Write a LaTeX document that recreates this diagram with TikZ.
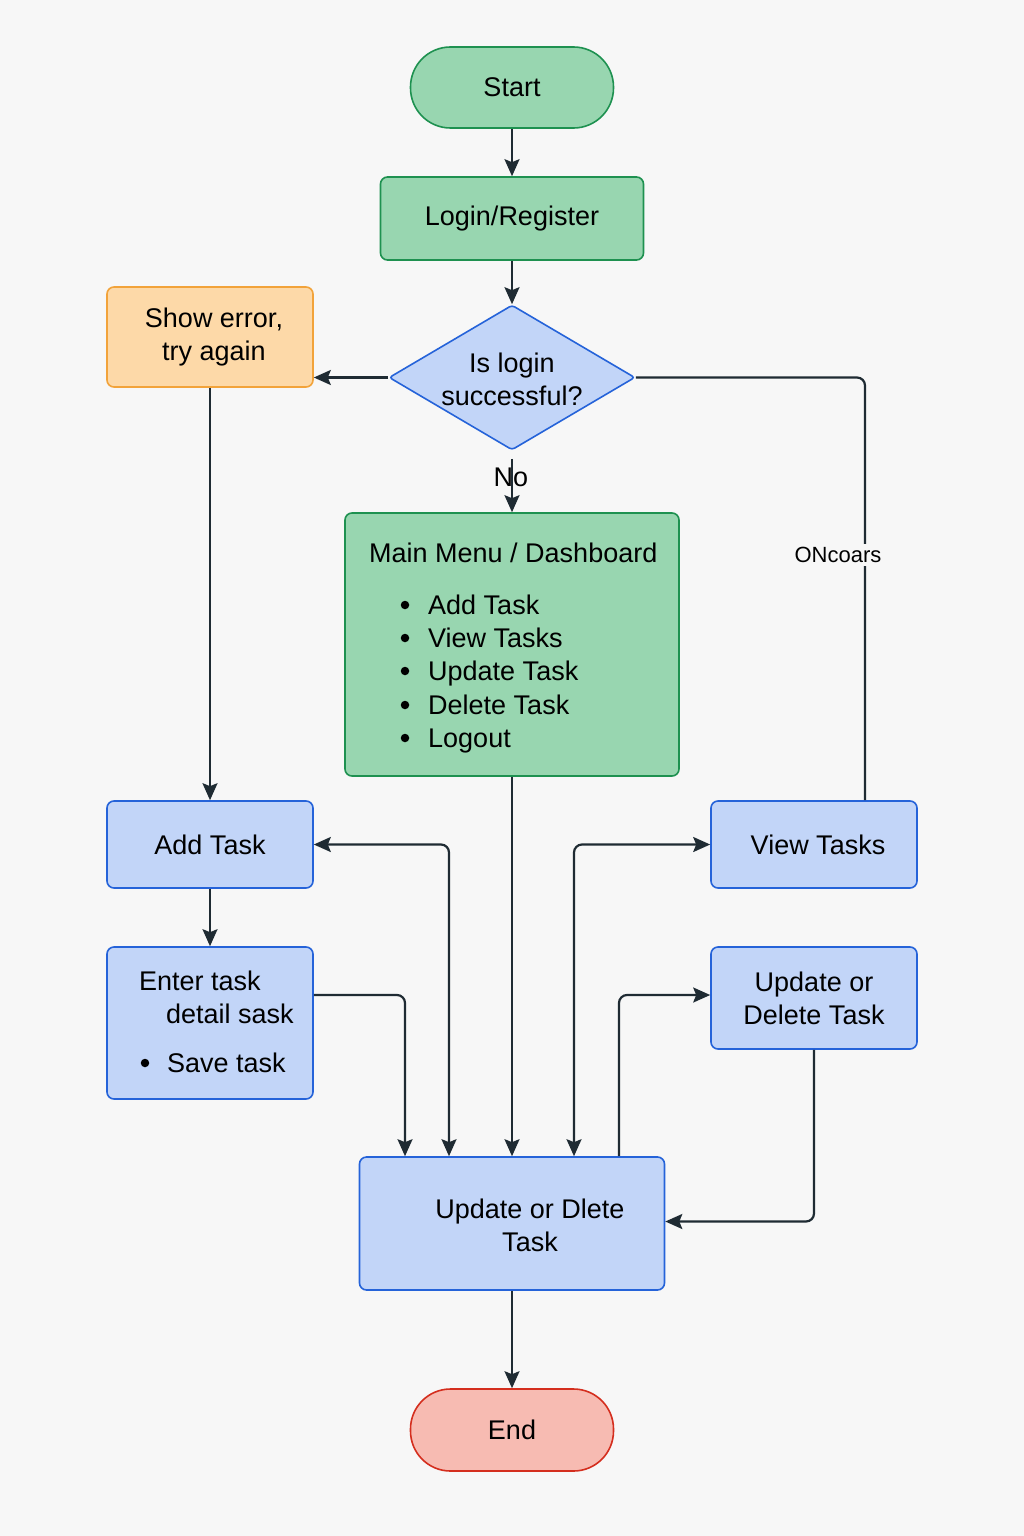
\documentclass[tikz,border=0pt]{standalone}
\usepackage{fontspec}
\setmainfont{Liberation Sans}
\usetikzlibrary{arrows.meta,shapes.geometric}
\definecolor{bg}{HTML}{F7F7F7}
\definecolor{gfill}{HTML}{98D6B0}
\definecolor{gline}{HTML}{1E9150}
\definecolor{bfill}{HTML}{C2D5F8}
\definecolor{bline}{HTML}{2563D9}
\definecolor{ofill}{HTML}{FDD9A8}
\definecolor{oline}{HTML}{F2A33A}
\definecolor{rfill}{HTML}{F7BBB2}
\definecolor{rline}{HTML}{D42E1E}
\definecolor{ink}{HTML}{1F2B33}
\begin{document}
\begin{tikzpicture}[x=1pt,y=-1pt,
  box/.style={draw, line width=1.6pt, rounded corners=7pt, inner sep=0pt,
    font=\fontsize{27}{33}\selectfont, align=center, text=black},
  gbox/.style={box, fill=gfill, draw=gline},
  bbox/.style={box, fill=bfill, draw=bline},
  obox/.style={box, fill=ofill, draw=oline},
  rbox/.style={box, fill=rfill, draw=rline},
  txt/.style={inner sep=0pt, font=\fontsize{27}{33}\selectfont, anchor=base west, text=black},
  ctxt/.style={inner sep=0pt, font=\fontsize{27}{33}\selectfont, align=center, text=black},
  dot/.style={circle, fill=black, inner sep=0pt, minimum size=8.5pt},
  conn/.style={draw=ink, line width=2.2pt, rounded corners=8pt},
  flow/.style={conn, -{Stealth[length=17pt,width=15pt,inset=3pt]}},
  both/.style={conn, {Stealth[length=17pt,width=15pt,inset=3pt]}-{Stealth[length=17pt,width=15pt,inset=3pt]}},
]
\fill[bg] (0,0) rectangle (1024,1536);
\useasboundingbox (0,0) rectangle (1024,1536);

% nodes
\node[gbox, rounded corners=40pt, minimum width=203pt, minimum height=81pt] (start) at (512,87.5) {Start};
\node[gbox, minimum width=263pt, minimum height=83pt] (login) at (512,218.5) {Login/Register};
\node[diamond, draw=bline, fill=bfill, line width=1.6pt, rounded corners=3pt,
      minimum width=246pt, minimum height=145pt, inner sep=0pt] (dec) at (512,377.5) {};
\node[ctxt] (dectext) at (512,379) {Is login\\successful?};
\node[obox, minimum width=206pt, minimum height=100pt] (err) at (210,337) {\hspace*{8pt}Show error,\\\hspace*{8pt}try again};
\node[gbox, minimum width=334pt, minimum height=263pt] (menu) at (512,644.5) {};
\node[txt] (mtitle) at (369,562) {Main Menu / Dashboard};
\foreach \n/\y/\s in {1/605/Add Task, 2/638/View Tasks, 3/671/Update Task, 4/705/Delete Task, 5/738/Logout}{
  \node[dot] (mb\n) at (405,\y) {};
  \node[txt] (mt\n) at (428,\y+9.5) {\s};
}
\node[bbox, minimum width=206pt, minimum height=87pt] (add) at (210,844.5) {Add Task};
\node[bbox, minimum width=206pt, minimum height=152pt] (enter) at (210,1023) {};
\node[txt] (e1) at (139,990.5) {Enter task};
\node[txt] (e2) at (166,1023.5) {detail sask};
\node[dot] (eb) at (145,1063) {};
\node[txt] (e3) at (167,1072.5) {Save task};
\node[bbox, minimum width=206pt, minimum height=87pt] (view) at (814,844.5) {\hspace*{8pt}View Tasks};
\node[bbox, minimum width=206pt, minimum height=102pt] (upd) at (814,998) {Update or\\Delete Task};
\node[bbox, minimum width=305pt, minimum height=133pt] (bot) at (512,1223.5) {};
\node[ctxt] (bottext) at (530,1225.5) {Update or Dlete\\Task};
\node[rbox, rounded corners=40pt, minimum width=203pt, minimum height=82pt] (end) at (512,1430) {End};

% connectors
\draw[flow] (start) -- (login);
\draw[flow] (login.south) -- (dec.north);
\draw[flow] (dec.west) -- (dec.west -| err.east);
\draw[conn] (dec.east) -| ([xshift=51pt]view.north);
\node[fill=bg, inner sep=3pt, font=\fontsize{22}{26}\selectfont] (lbl) at (838,555) {ONcoars};
\draw[flow] ([yshift=-8pt]dec.south) -- (menu.north);
\node[inner sep=0pt, font=\fontsize{27}{30}\selectfont] (no) at (511,477) {No};
\draw[flow] (err.south) -- (add.north);
\draw[flow] (add) -- (enter);
\draw[flow] ([yshift=28pt]enter.east) -| ([xshift=-107pt]bot.north);
\draw[both] ([xshift=-63pt]bot.north) |- (add.east);
\draw[flow] (menu.south) -- (bot.north);
\draw[both] ([xshift=62pt]bot.north) |- (view.west);
\draw[flow] ([xshift=107pt]bot.north) |- ([yshift=3pt]upd.west);
\draw[flow] (upd.south) |- ([yshift=2pt]bot.east);
\draw[flow] (bot) -- (end);
\end{tikzpicture}
\end{document}
